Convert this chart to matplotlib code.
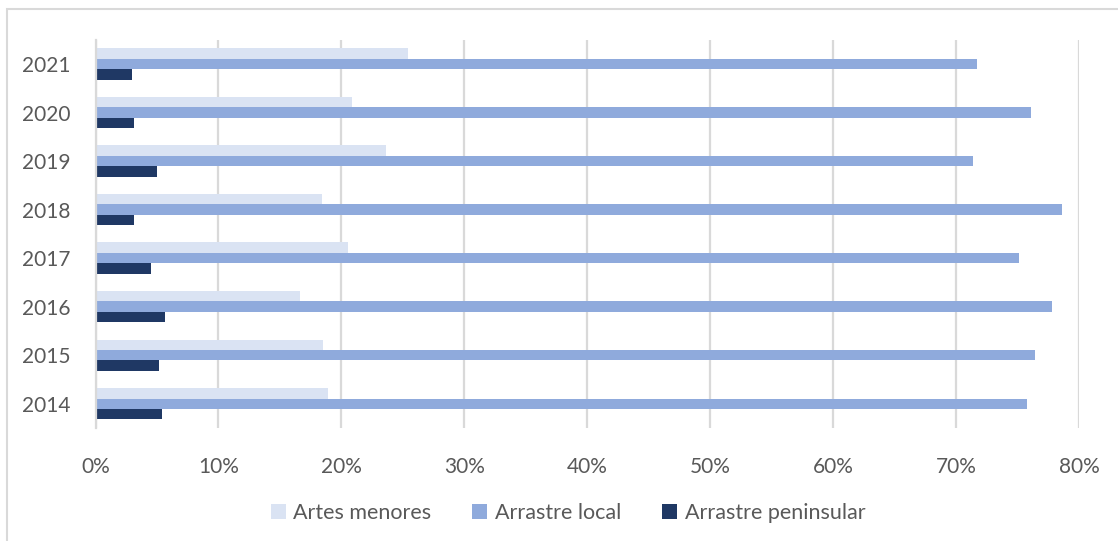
import matplotlib
matplotlib.use("Agg")
import matplotlib.pyplot as plt
from matplotlib.patches import Rectangle, Patch
import numpy as np

years = ["2014", "2015", "2016", "2017", "2018", "2019", "2020", "2021"]
artes_menores = [18.9, 18.5, 16.6, 20.5, 18.4, 23.6, 20.9, 25.4]
arrastre_local = [75.8, 76.4, 77.8, 75.1, 78.6, 71.4, 76.1, 71.7]
arrastre_peninsular = [5.4, 5.2, 5.65, 4.5, 3.1, 5.0, 3.1, 3.0]
series_names = ["Artes menores", "Arrastre local", "Arrastre peninsular"]
colors = ["#dae3f3", "#8faadc", "#1f3864"]
xticks = [0, 10, 20, 30, 40, 50, 60, 70, 80]

plt.rcParams['font.family'] = ['Lato', 'DejaVu Sans']
text_color = "#595959"

fig = plt.figure(figsize=(11.18, 5.41), dpi=100)
ax = fig.add_axes([95.5/1118, 1-428/541, (1079-95.5)/1118, (428-39.75)/541])

y = np.arange(len(years))
h = 0.215
ax.barh(y + h, artes_menores, height=h, color=colors[0], zorder=3)
ax.barh(y, arrastre_local, height=h, color=colors[1], zorder=3)
ax.barh(y - h, arrastre_peninsular, height=h, color=colors[2], zorder=3)

ax.set_xlim(0, 80)
ax.set_ylim(-0.5, len(years) - 0.5)
ax.set_xticks(xticks)
ax.set_xticklabels([f"{v}%" for v in xticks])
ax.set_yticks(y)
ax.set_yticklabels(years)
ax.tick_params(axis='both', length=0, labelsize=15, colors=text_color)
ax.tick_params(axis='x', pad=21)
ax.tick_params(axis='y', pad=18)
ax.grid(axis='x', color="#d9d9d9", linewidth=1.6, zorder=0)
for s in ["top", "right", "bottom"]:
    ax.spines[s].set_visible(False)
ax.spines["left"].set_color("#d9d9d9")
ax.spines["left"].set_linewidth(1.6)
ax.spines["left"].set_zorder(4)

handles = [Patch(facecolor=c, edgecolor='none') for c in colors]
leg = fig.legend(handles, series_names, loc='center', bbox_to_anchor=(568/1118, 1-513/541),
                 ncol=3, frameon=False, fontsize=15.5, handlelength=0.7, handleheight=0.7,
                 handletextpad=0.35, columnspacing=1.9)
for t in leg.get_texts():
    t.set_color(text_color)

fig.patches.append(Rectangle((7/1118, -0.05), 1.1, 1 - 9/541 + 0.05, transform=fig.transFigure,
                             fill=False, edgecolor="#d9d9d9", linewidth=1.5, zorder=0))

fig.savefig("out.png", dpi=100)
